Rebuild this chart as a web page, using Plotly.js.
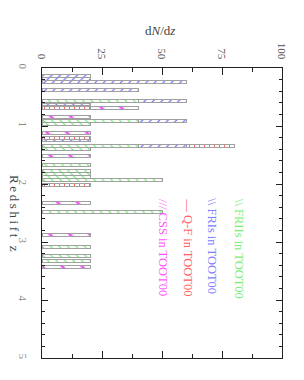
<!DOCTYPE html>
<html>
<head>
<meta charset="utf-8">
<script src="https://cdn.plot.ly/plotly-3.0.1.min.js"></script>
<style>html,body{margin:0;padding:0;background:#fff;}#chart{width:304px;height:380px;}</style>
</head>
<body>
<div id="chart"></div>
<script>
// Redshift bin centres (z) of each drawn bar
const zMid = [0.14, 0.19, 0.24, 0.385, 0.565, 0.629, 0.686, 0.852, 0.909, 0.96,
              1.115, 1.203, 1.247, 1.345, 1.393, 1.51, 1.665, 1.775, 1.825, 1.875,
              1.925, 2.015, 2.325, 2.49, 2.875, 3.086, 3.235, 3.33, 3.43];
// dN/dz contributions per class (stacked)
const fr2 = [0,0,0,0,40,0,0,0,40,20, 0,0,0,40,20,0,20,20,20,20, 50,0,0,50,0,20,20,20,0];
const fr1 = [20,20,60,40,20,20,0,0,20,0, 0,0,20,20,0,0,0,0,0,0, 0,0,0,0,0,0,0,0,0];
const qf  = [0,0,0,0,0,0,20,0,0,0, 0,20,0,20,0,0,0,0,0,0, 0,20,0,0,0,0,0,0,0];
const css = [0,0,0,0,0,0,20,20,0,0, 20,0,0,0,0,20,0,0,0,0, 0,0,20,0,20,0,0,0,20];

const classNames = ['FRIIs in TOOT00', 'FRIs in TOOT00', 'Q-F in TOOT00', 'CSS in TOOT00'];
const xTicks = [0, 25, 50, 75, 100];
const zTicks = [0, 1, 2, 3, 4, 5];

const binWidth = 0.05;
const nz = v => v.map(d => d > 0 ? d : null);

function barTrace(vals, color, shape, size, name) {
  return {
    type: 'bar', orientation: 'h', name: name,
    y: zMid, x: nz(vals), width: binWidth,
    marker: {
      color: color,
      line: {color: '#a0a0a0', width: 1},
      pattern: {shape: shape, fgcolor: color, bgcolor: '#ffffff', size: size, solidity: 0.18, fillmode: 'replace'}
    },
    hoverinfo: 'skip', showlegend: false
  };
}

const traces = [
  barTrace(fr2, '#55ee55', '\\', 6, classNames[0]),
  barTrace(fr1, '#5555ff', '/', 6, classNames[1]),
  barTrace(qf,  '#ff5555', '|', 5, classNames[2]),
  barTrace(css, '#ff44ff', '\\', 14, classNames[3])
];

const serif = 'Liberation Serif, serif';
const legendX = [82, 71, 61, 50.5];
const legendColor = ['#77ee77', '#8080ff', '#ff6060', '#ff55ff'];
const legendSym = ['\\\\', '\\\\', '\u2014', '///'];

const annotations = classNames.map((t, i) => ({
  x: legendX[i], y: 2.22, xref: 'x', yref: 'y',
  text: legendSym[i] + ' ' + t, showarrow: false, textangle: 90,
  xanchor: 'center', yanchor: 'top',
  font: {family: serif, size: 12.5, color: legendColor[i]}
}));
annotations.push({
  x: 0.49, y: 1, xref: 'paper', yref: 'paper', yshift: 38,
  text: 'd<i>N</i>/d<i>z</i>', showarrow: false,
  xanchor: 'center', yanchor: 'middle',
  font: {family: serif, size: 13, color: '#444'}
});
annotations.push({
  x: 0, y: 0.5, xref: 'paper', yref: 'paper', xshift: -27,
  text: 'R\u2009e\u2009d\u2009s\u2009h\u2009i\u2009f\u2009t\u2009 \u2009z', showarrow: false, textangle: 90,
  xanchor: 'center', yanchor: 'middle',
  font: {family: serif, size: 13, color: '#444'}
});

const layout = {
  width: 304, height: 380,
  margin: {l: 42, r: 22, t: 68, b: 22},
  paper_bgcolor: '#fff', plot_bgcolor: '#fff',
  barmode: 'stack', bargap: 0,
  showlegend: false,
  xaxis: {
    range: [0, 100], side: 'top', tickvals: xTicks, ticktext: xTicks.map(String),
    tickangle: 90, ticks: 'inside', ticklen: 7, tickwidth: 1, tickcolor: '#222',
    minor: {dtick: 12.5, ticklen: 4, ticks: 'inside', tickcolor: '#222'},
    showline: true, linecolor: '#222', linewidth: 1, mirror: 'ticks',
    showgrid: false, zeroline: false,
    tickfont: {family: serif, size: 11, color: '#555'}, ticklabelstandoff: 4
  },
  yaxis: {
    range: [5, 0], tickvals: zTicks, ticktext: zTicks.map(String),
    tickangle: 90, ticks: 'inside', ticklen: 6, tickwidth: 1, tickcolor: '#222',
    minor: {dtick: 0.2, ticklen: 3, ticks: 'inside', tickcolor: '#222'},
    showline: true, linecolor: '#222', linewidth: 1, mirror: 'ticks',
    showgrid: false, zeroline: false,
    tickfont: {family: serif, size: 11, color: '#888'}, ticklabelstandoff: 9
  },
  annotations: annotations
};

Plotly.newPlot('chart', traces, layout, {staticPlot: true, displayModeBar: false});
</script>
</body>
</html>
